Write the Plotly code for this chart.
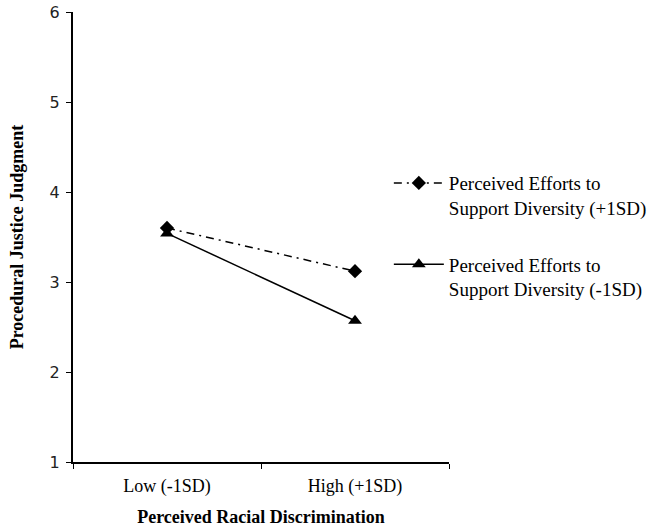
import plotly.graph_objects as go

categories = ["Low (-1SD)", "High (+1SD)"]
plus_sd = [3.60, 3.12]
minus_sd = [3.54, 2.57]
legend_names = ["Perceived Efforts to<br>Support Diversity (+1SD)",
                "Perceived Efforts to<br>Support Diversity (-1SD)"]
y_ticks = [1, 2, 3, 4, 5, 6]

serif = "Liberation Serif, Times New Roman, serif"

fig = go.Figure()
fig.add_trace(go.Scatter(
    x=categories, y=plus_sd, name=legend_names[0], mode="lines+markers",
    line=dict(color="black", width=1.5, dash="8px,5px,2px,5px"),
    marker=dict(symbol="diamond", size=11, color="black"),
    legendgroup="a"))
fig.add_trace(go.Scatter(
    x=categories, y=minus_sd, name=legend_names[1], mode="lines+markers",
    line=dict(color="black", width=1.5),
    marker=dict(symbol="triangle-up", size=12, color="black"),
    legendgroup="b"))

fig.update_layout(
    width=656, height=530,
    margin=dict(l=73, r=207, t=12, b=68, autoexpand=False),
    paper_bgcolor="white", plot_bgcolor="white",
    showlegend=True,
    legend=dict(x=0.84, y=0.662, xref="paper", xanchor="left", yanchor="top",
                font=dict(family=serif, size=19, color="black"),
                itemwidth=50,
                valign="top", tracegroupgap=29, bgcolor="rgba(0,0,0,0)"),
    xaxis=dict(
        type="category", range=[-0.5, 1.5], tickson="boundaries",
        showline=True, linecolor="black", linewidth=2,
        ticks="outside", ticklen=5, tickcolor="black",
        ticklabelstandoff=6,
        showgrid=False, zeroline=False,
        tickfont=dict(family=serif, size=18, color="black"),
        title=dict(text="<b>Perceived Racial Discrimination</b>",
                   font=dict(family=serif, size=18, color="black"), standoff=15),
    ),
    yaxis=dict(
        range=[1, 6], tickvals=y_ticks,
        showline=True, linecolor="black", linewidth=2,
        ticks="outside", ticklen=5, tickcolor="black",
        ticklabelstandoff=3,
        showgrid=False, zeroline=False,
        tickfont=dict(family="DejaVu Sans, sans-serif", size=16, color="#222"),
        title=dict(text="<b>Procedural Justice Judgment</b>",
                   font=dict(family=serif, size=18, color="black"), standoff=21),
    ),
)

fig.write_html("out.html", config={"displayModeBar": False},
               post_script="document.body.style.margin='0';")
